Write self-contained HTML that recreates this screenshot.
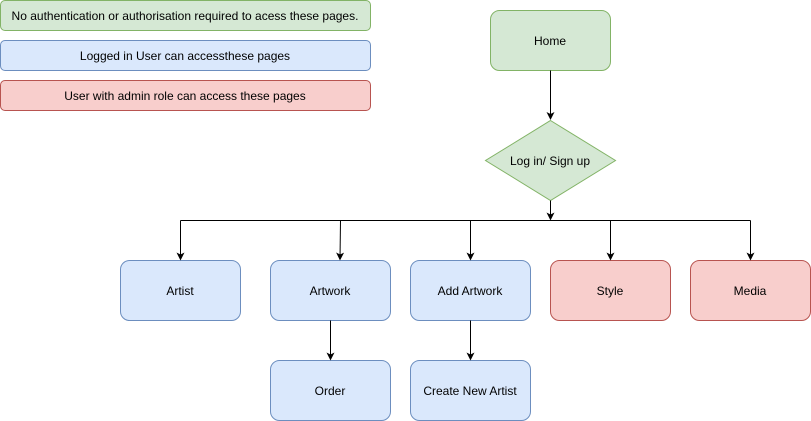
<!DOCTYPE html>
<html><head><meta charset="utf-8"><style>
html,body{margin:0;padding:0;background:#fff;}
svg{display:block;}
text{font-family:"Liberation Sans",sans-serif;font-size:12px;fill:#000;}
</style></head><body>
<svg width="811" height="421" viewBox="0 0 811 421" xmlns="http://www.w3.org/2000/svg">
<defs>
<marker id="a" markerWidth="8" markerHeight="8" refX="7" refY="4" orient="auto" markerUnits="userSpaceOnUse">
<path d="M0,0 L8,4 L0,8 L2,4 Z" fill="#000"/>
</marker>
</defs>
<g stroke-width="1">
<rect x="0.5" y="0.5" width="370" height="30" rx="4.5" fill="#d5e8d4" stroke="#82b366"/>
<rect x="0.5" y="40.5" width="370" height="30" rx="4.5" fill="#dae8fc" stroke="#6c8ebf"/>
<rect x="0.5" y="80.5" width="370" height="30" rx="4.5" fill="#f8cecc" stroke="#b85450"/>
<rect x="490.5" y="10.5" width="120" height="60" rx="9" fill="#d5e8d4" stroke="#82b366"/>
<path d="M550.5,120.5 L615.5,160.5 L550.5,200.5 L485.5,160.5 Z" fill="#d5e8d4" stroke="#82b366"/>
<rect x="120.5" y="260.5" width="120" height="60" rx="9" fill="#dae8fc" stroke="#6c8ebf"/>
<rect x="270.5" y="260.5" width="120" height="60" rx="9" fill="#dae8fc" stroke="#6c8ebf"/>
<rect x="410.5" y="260.5" width="120" height="60" rx="9" fill="#dae8fc" stroke="#6c8ebf"/>
<rect x="550.5" y="260.5" width="120" height="60" rx="9" fill="#f8cecc" stroke="#b85450"/>
<rect x="690.5" y="260.5" width="120" height="60" rx="9" fill="#f8cecc" stroke="#b85450"/>
<rect x="270.5" y="360.5" width="120" height="60" rx="9" fill="#dae8fc" stroke="#6c8ebf"/>
<rect x="410.5" y="360.5" width="120" height="60" rx="9" fill="#dae8fc" stroke="#6c8ebf"/>
</g>
<g stroke="#000" stroke-width="1" fill="none">
<line x1="550.5" y1="70.5" x2="550.5" y2="119" marker-end="url(#a)"/>
<line x1="550.5" y1="200.5" x2="550.5" y2="219.5" marker-end="url(#a)"/>
<line x1="180.5" y1="220.5" x2="750.5" y2="220.5"/>
<line x1="180.5" y1="220.5" x2="180.5" y2="259.5" marker-end="url(#a)"/>
<line x1="340.5" y1="220.5" x2="340" y2="259.5" marker-end="url(#a)"/>
<line x1="470.5" y1="220.5" x2="470.5" y2="259.5" marker-end="url(#a)"/>
<line x1="610.5" y1="220.5" x2="610.5" y2="259.5" marker-end="url(#a)"/>
<line x1="750.5" y1="220.5" x2="750.5" y2="259.5" marker-end="url(#a)"/>
<line x1="330.5" y1="320.5" x2="330.5" y2="359.5" marker-end="url(#a)"/>
<line x1="470.5" y1="320.5" x2="470.5" y2="359.5" marker-end="url(#a)"/>
</g>
<g text-anchor="middle">
<text x="185" y="20">No authentication or authorisation required to acess these pages.</text>
<text x="185" y="60">Logged in User can accessthese pages</text>
<text x="185" y="100">User with admin role can access these pages</text>
<text x="550" y="45">Home</text>
<text x="550" y="165">Log in/ Sign up</text>
<text x="180" y="295">Artist</text>
<text x="330" y="295">Artwork</text>
<text x="470" y="295">Add Artwork</text>
<text x="610" y="295">Style</text>
<text x="750" y="295">Media</text>
<text x="330" y="395">Order</text>
<text x="470" y="395">Create New Artist</text>
</g>
</svg>
</body></html>
